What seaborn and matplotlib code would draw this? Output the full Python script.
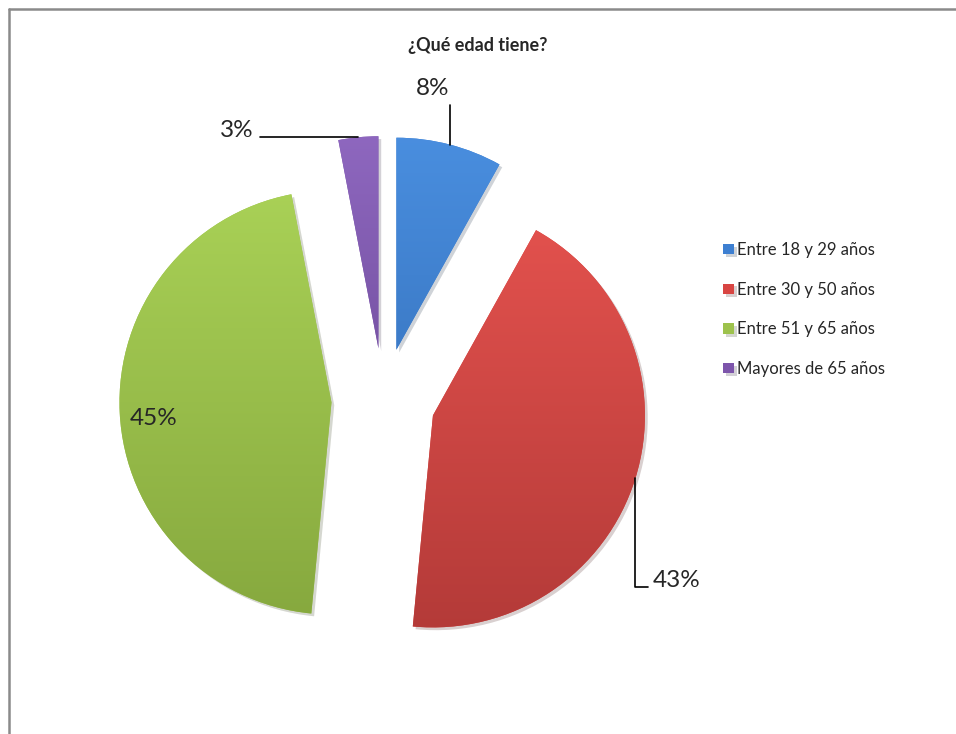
import numpy as np
import matplotlib
matplotlib.use("Agg")
import matplotlib.pyplot as plt
import matplotlib.patheffects as pe
from matplotlib.colors import LinearSegmentedColormap
from matplotlib.lines import Line2D
import seaborn as sns

# data
categories = ["Entre 18 y 29 años", "Entre 30 y 50 años",
              "Entre 51 y 65 años", "Mayores de 65 años"]
shares = [8, 43, 45, 3]
pct_labels = ["8%", "43%", "45%", "3%"]
title = "¿Qué edad tiene?"

sns.set_theme(style="white")
plt.rcParams['font.family'] = ['Lato', 'DejaVu Sans']

colors = sns.color_palette(["#3d7fd1", "#d84542", "#9dc24c", "#7d55ab"])
light = ["#4a8fe0", "#e6534f", "#aad257", "#8f68c0"]
dark = ["#2f68b0", "#b33a38", "#86a83e", "#62418c"]

fig = plt.figure(figsize=(9.56, 7.34), dpi=100)
ax = fig.add_axes([0.0905, 0.0507, 0.621, 0.8087])

wedges, _ = ax.pie(shares, colors=colors, startangle=90, counterclock=False,
                   explode=[0.245] * len(shares), radius=1,
                   wedgeprops=dict(linewidth=0))

# soft shading inside each slice
grad = np.linspace(0, 1, 256).reshape(-1, 1)
for w, lc, dc in zip(wedges, light, dark):
    w.set_path_effects([pe.SimplePatchShadow(offset=(2, -2), alpha=0.2), pe.Normal()])
    cx, cy = w.center
    cmap = LinearSegmentedColormap.from_list("g", [lc, dc])
    im = ax.imshow(grad, cmap=cmap, aspect="auto", origin="upper",
                   extent=[cx - 1.05, cx + 1.05, cy - 1.05, cy + 1.05], zorder=w.get_zorder() + 0.1)
    im.set_clip_path(w)

ax.set_xlim(-1.4, 1.4)
ax.set_ylim(-1.4, 1.4)
ax.set_aspect("equal")
ax.axis("off")


def arc_point(w):
    ang = np.deg2rad((w.theta1 + w.theta2) / 2)
    cx, cy = w.center
    return cx + w.r * np.cos(ang), cy + w.r * np.sin(ang)


lk = dict(color="black", lw=1.2)
fs = 17.5

# 8%
x0, y0 = arc_point(wedges[0])
ax.plot([x0, x0], [y0, 1.39], **lk)
ax.text(x0 - 0.08, 1.47, pct_labels[0], ha="center", va="center", fontsize=fs)

# 43%
x1, y1 = arc_point(wedges[1])
ax.plot([x1, x1, x1 + 0.06], [y1, -0.88, -0.88], **lk)
ax.text(x1 + 0.08, -0.85, pct_labels[1], ha="left", va="center", fontsize=fs)

# 45%
ax.text(-1.085, -0.085, pct_labels[2], ha="center", va="center", fontsize=fs)

# 3%
x3, y3 = arc_point(wedges[3])
ax.plot([x3, -0.58], [y3, y3], **lk)
ax.text(-0.61, y3 + 0.03, pct_labels[3], ha="right", va="center", fontsize=fs)

fig.text(478 / 956, 1 - 45 / 734, title, ha="center", va="center",
         fontsize=13, fontweight="bold")

fig.legend(wedges, categories, loc="upper left",
           bbox_to_anchor=(723 / 956, 1 - 242 / 734), frameon=False,
           fontsize=12, handlelength=0.65, handleheight=0.6,
           handletextpad=0.2, labelspacing=1.42, borderpad=0, borderaxespad=0)

# chart area border (top and left visible)
fig.add_artist(Line2D([9 / 956, 1], [1 - 9 / 734] * 2, transform=fig.transFigure,
                      color="#8a8a8a", lw=1.8))
fig.add_artist(Line2D([9 / 956] * 2, [0, 1 - 9 / 734], transform=fig.transFigure,
                      color="#8a8a8a", lw=1.8))

fig.savefig("out.png", dpi=100)
